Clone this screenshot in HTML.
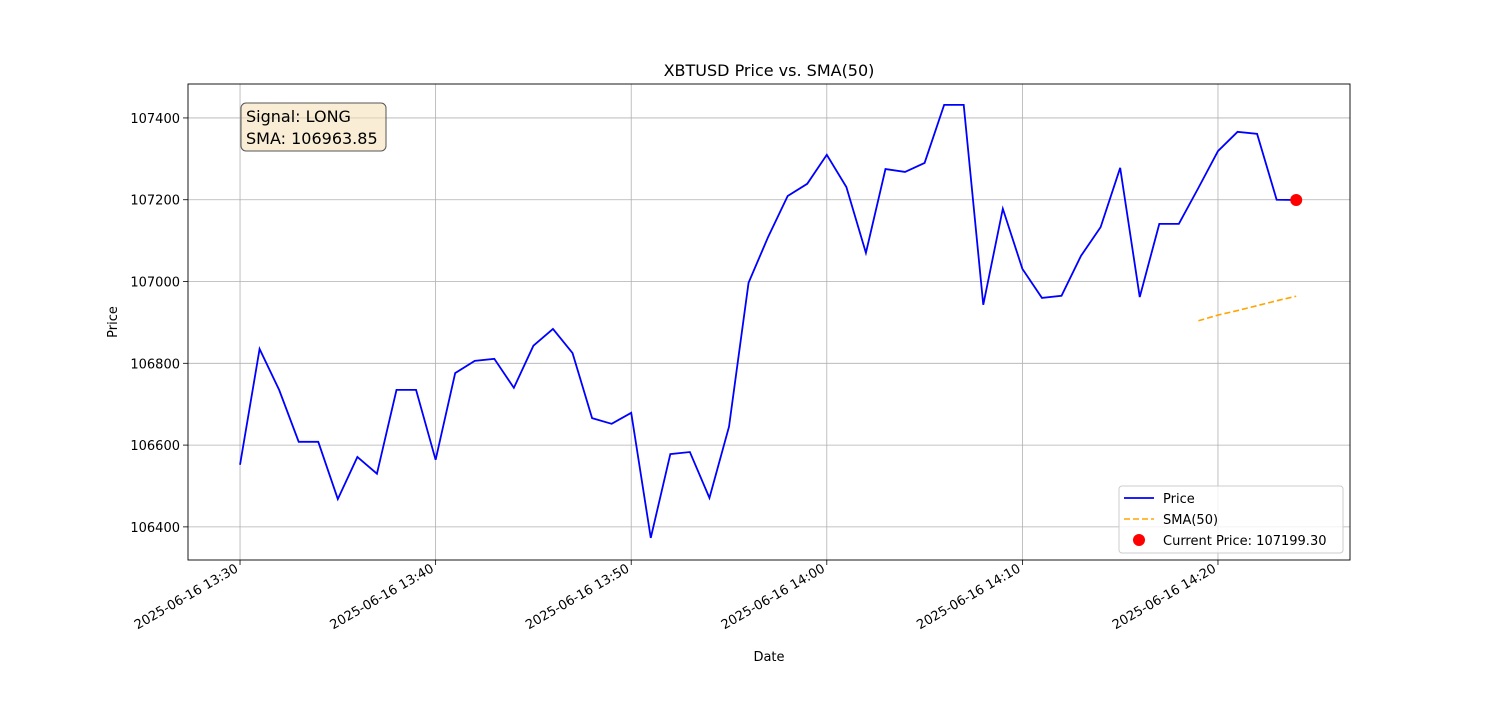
<!DOCTYPE html>
<html><head><meta charset="utf-8"><style>
body{margin:0;background:#fff;font-family:"Liberation Sans","DejaVu Sans",sans-serif}
svg text{font-family:"DejaVu Sans","Liberation Sans",sans-serif}
</style></head><body>
<svg id="chart" width="1500" height="700" xmlns="http://www.w3.org/2000/svg"></svg>
<script>
const prices=[106552,106835,106735,106608,106608,106468,106571,106530,106735,106735,106564,106776,106806,106811,106740,106843,106884,106825,106666,106652,106679,106373,106578,106583,106471,106645,106997,107109,107209,107239,107310,107231,107070,107275,107268,107290,107432,107432,106943,107178,107031,106960,106965,107063,107133,107278,106962,107141,107141,107229,107319,107366,107361,107200,107199.3];
const smaStart=49;
const smaValues=[106904,106918,106929,106941,106953,106964];
const yTicks=[106400,106600,106800,107000,107200,107400];
const xTickMinutes=[0,10,20,30,40,50];
const xTickLabels=["2025-06-16 13:30","2025-06-16 13:40","2025-06-16 13:50","2025-06-16 14:00","2025-06-16 14:10","2025-06-16 14:20"];
const currentPrice=107199.3;

const L=188,R=1350,T=84,B=560;
const xMin=-2.66,xMax=56.75,yMin=106319,yMax=107483;
const X=m=>L+(m-xMin)/(xMax-xMin)*(R-L);
const Y=v=>B-(v-yMin)/(yMax-yMin)*(B-T);
const svg=document.getElementById('chart');
const NS='http://www.w3.org/2000/svg';
function mk(tag,attrs,parent){const e=document.createElementNS(NS,tag);for(const k in attrs)e.setAttribute(k,attrs[k]);(parent||svg).appendChild(e);return e;}

xTickMinutes.forEach((m,i)=>{
  const g=mk('line',{x1:X(m),x2:X(m),y1:T,y2:B,stroke:'#b0b0b0','stroke-width':0.8});
  
  
  mk('line',{x1:X(m),x2:X(m),y1:B,y2:B+5,stroke:'#000','stroke-width':0.8});
  const ax=X(m)-1, ay=B+11;
  const t=mk('text',{x:ax,y:ay,'font-size':13,'text-anchor':'end',transform:`rotate(-30 ${ax} ${ay})`});
  t.textContent=xTickLabels[i];
  
  
});
yTicks.forEach(v=>{
  const g=mk('line',{x1:L,x2:R,y1:Y(v),y2:Y(v),stroke:'#b0b0b0','stroke-width':0.8});
  
  
  mk('line',{x1:L-5,x2:L,y1:Y(v),y2:Y(v),stroke:'#000','stroke-width':0.8});
  const t=mk('text',{x:L-8,y:Y(v)+5,'font-size':13,'text-anchor':'end'});
  t.textContent=v;
  
  
});

const p=mk('polyline',{points:prices.map((v,i)=>X(i)+','+Y(v)).join(' '),fill:'none',stroke:'#0000ff','stroke-width':1.8});


const s=mk('polyline',{points:smaValues.map((v,i)=>X(smaStart+i)+','+Y(v)).join(' '),fill:'none',stroke:'#ffa500','stroke-width':1.6,'stroke-dasharray':'6,3'});


const c=mk('circle',{cx:X(prices.length-1),cy:Y(currentPrice),r:6,fill:'#ff0000'});



const f=mk('rect',{x:L,y:T,width:R-L,height:B-T,fill:'none',stroke:'#000','stroke-width':0.9});



let t=mk('text',{x:(L+R)/2,y:76,'font-size':16,'text-anchor':'middle'});t.textContent='XBTUSD Price vs. SMA(50)';


t=mk('text',{x:(L+R)/2,y:661,'font-size':13,'text-anchor':'middle'});t.textContent='Date';


t=mk('text',{x:117,y:(T+B)/2,'font-size':13,'text-anchor':'middle',transform:`rotate(-90 117 ${(T+B)/2})`});t.textContent='Price';



const sb=mk('g',{});


mk('rect',{x:241,y:103,width:145,height:48,rx:5,fill:'#f5deb3','fill-opacity':0.55,stroke:'#555','stroke-width':1},sb);
t=mk('text',{x:246,y:122,'font-size':16},sb);t.textContent='Signal: LONG';
t=mk('text',{x:246,y:144,'font-size':16},sb);t.textContent='SMA: 106963.85';

const lg=mk('g',{});


mk('rect',{x:1119,y:486,width:224,height:67,rx:3,fill:'#fff','fill-opacity':0.8,stroke:'#ccc','stroke-width':1},lg);
mk('line',{x1:1124,x2:1154,y1:498,y2:498,stroke:'#0000ff','stroke-width':1.8},lg);
t=mk('text',{x:1163,y:503,'font-size':13},lg);t.textContent='Price';
mk('line',{x1:1124,x2:1154,y1:519,y2:519,stroke:'#ffa500','stroke-width':1.6,'stroke-dasharray':'6,3'},lg);
t=mk('text',{x:1163,y:524,'font-size':13},lg);t.textContent='SMA(50)';
mk('circle',{cx:1139,cy:540,r:6,fill:'#ff0000'},lg);
t=mk('text',{x:1163,y:545,'font-size':13},lg);t.textContent='Current Price: 107199.30';
</script>
</body></html>
